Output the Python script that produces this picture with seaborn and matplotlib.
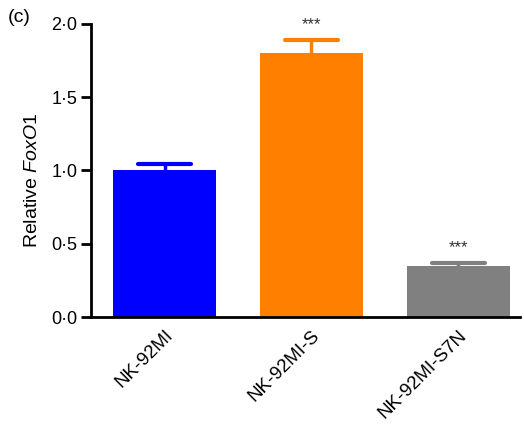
import matplotlib
matplotlib.use("Agg")
import matplotlib.pyplot as plt
import seaborn as sns
import pandas as pd

groups = ["NK-92MI", "NK-92MI-S", "NK-92MI-S7N"]
means = [1.0, 1.80, 0.35]
errors = [0.045, 0.09, 0.02]
signif = ["", "***", "***"]
colors = ["#0000FF", "#FF8000", "#808080"]
yticks = [0.0, 0.5, 1.0, 1.5, 2.0]
ytick_labels = ["0·0", "0·5", "1·0", "1·5", "2·0"]

sns.set_style("ticks")
plt.rcParams["font.family"] = ["Liberation Sans", "DejaVu Sans"]
plt.rcParams["mathtext.fontset"] = "custom"
plt.rcParams["mathtext.rm"] = "Liberation Sans"
plt.rcParams["mathtext.it"] = "Liberation Sans:italic"
plt.rcParams["text.color"] = "black"
plt.rcParams["axes.labelcolor"] = "black"
plt.rcParams["xtick.color"] = "black"
plt.rcParams["ytick.color"] = "black"

df = pd.DataFrame({"group": groups, "value": means})

fig = plt.figure(figsize=(5.24, 4.25), dpi=100)
ax = fig.add_axes([0.174, 0.254, 0.818, 0.69])

sns.barplot(data=df, x="group", y="value", hue="group", palette=colors,
            order=groups, hue_order=groups, errorbar=None, width=0.70,
            saturation=1, legend=False, linewidth=0, ax=ax)

# upper-only error whiskers with a cap, plus significance stars
cap_half = 0.18
for i, (m, e, c, s) in enumerate(zip(means, errors, colors, signif)):
    ax.vlines(i, m, m + e, colors=c, linewidth=2.5, zorder=1)
    ax.hlines(m + e, i - cap_half, i + cap_half, colors=c, linewidth=3,
              capstyle="round", zorder=1)
    if s:
        ax.text(i, m + e + 0.05, s, ha="center", va="bottom", fontsize=12,
                color="#333333")

ax.set_xlim(-0.5, 2.42)
ax.set_ylim(0, 2.0)
ax.set_yticks(yticks)
ax.set_yticklabels(ytick_labels)
ax.set_xlabel("")
ax.set_ylabel(r"Relative $\mathit{FoxO1}$", fontsize=14)
ax.yaxis.set_label_coords(-0.116, 0.465)

for side in ["top", "right"]:
    ax.spines[side].set_visible(False)
for side in ["left", "bottom"]:
    ax.spines[side].set_linewidth(2)
    ax.spines[side].set_color("black")
ax.tick_params(axis="y", length=7, width=2, labelsize=13, direction="out", pad=3)
ax.tick_params(axis="x", length=0, labelsize=13.5, pad=7)
plt.setp(ax.get_xticklabels(), rotation=45, ha="right", rotation_mode="anchor")

fig.text(0.015, 0.96, "(c)", fontsize=14, ha="left", va="center")

fig.savefig("out.png", dpi=100)
